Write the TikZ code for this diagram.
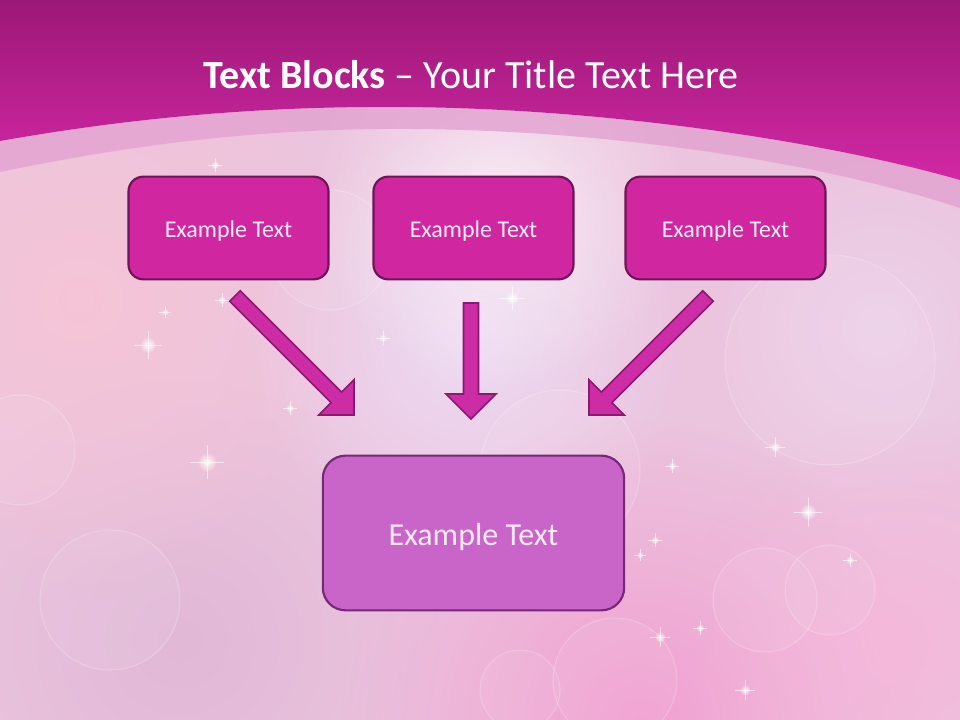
\documentclass[tikz,border=0pt]{standalone}
\usepackage{fontspec}
\setmainfont{Carlito}
\usetikzlibrary{calc,fadings}
\definecolor{bgbase}{HTML}{EBC4DE}
\definecolor{bgpeach}{HTML}{F6C4D6}
\definecolor{bglav}{HTML}{EEE0F6}
\definecolor{bghot}{HTML}{F39ACF}
\definecolor{bgpink}{HTML}{F7B6DA}
\definecolor{bgmauve}{HTML}{DDB4D4}
\definecolor{bandcol}{HTML}{E2A2D0}
\definecolor{topdark}{HTML}{9C1876}
\definecolor{toplight}{HTML}{D228A5}
\definecolor{boxfill}{HTML}{D027A1}
\definecolor{boxline}{HTML}{6E1458}
\definecolor{bigfill}{HTML}{C965C9}
\definecolor{bigline}{HTML}{762878}
\definecolor{arrfill}{HTML}{CC2CA4}
\definecolor{arrline}{HTML}{8A1870}
\definecolor{boxtext}{HTML}{FBEAF6}
\tikzfading[name=softglow, inner color=transparent!0, outer color=transparent!100]
\tikzset{
  smallbox/.style={draw=boxline, line width=1.6pt, fill=boxfill, rounded corners=11pt,
    minimum width=150pt, minimum height=77pt, text=boxtext, font=\fontsize{18}{21}\selectfont},
  bigbox/.style={draw=bigline, line width=1.6pt, fill=bigfill, rounded corners=17pt,
    minimum width=226pt, minimum height=116pt, text=boxtext, font=\fontsize{24}{28}\selectfont},
  blockarr/.style={draw=arrline, line width=1.2pt, fill=arrfill, line join=miter},
  glow/.style={path fading=softglow},
  bokeh/.style={draw=white, draw opacity=0.22, fill=white, fill opacity=0.06, line width=0.8pt},
  sparkline/.style={draw=white, line width=0.4pt, opacity=0.6}
}
\newcommand\blockarrow[2]{%
  \coordinate (hb) at ($(#2)!18.75pt!(#1)$);
  \draw[blockarr] (#2) -- ($(hb)!18.75pt!90:(#2)$) -- ($(hb)!5.6pt!90:(#2)$)
    -- ($(#1)!5.6pt!90:(hb)$) -- ($(#1)!5.6pt!-90:(hb)$)
    -- ($(hb)!5.6pt!-90:(#2)$) -- ($(hb)!18.75pt!-90:(#2)$) -- cycle;}
\newcommand\sparkle[3]{%
  \fill[white, glow, fill opacity=0.95] (#1,#2) circle ({1.4*#3});
  \draw[sparkline] ({#1-2.4*#3},#2) -- ({#1+2.4*#3},#2);
  \draw[sparkline] (#1,{#2-2.4*#3}) -- (#1,{#2+2.4*#3});}
\newcommand\lowtext[2]{\raisebox{0pt}[\dimexpr\height+#1\relax]{#2}}
\begin{document}
\begin{tikzpicture}[x=0.75pt,y=-0.75pt]
\useasboundingbox (0,0) rectangle (960,720);
% background
\fill[bgbase] (0,0) rectangle (960,720);
\begin{scope}
\clip (0,0) rectangle (960,720);
\fill[bgmauve, glow, fill opacity=0.7] (180,640) circle (260);
\fill[bgpeach, glow, fill opacity=0.95] (80,300) circle (300);
\fill[bglav, glow, fill opacity=0.85] (470,340) circle (220);
\fill[white, glow, fill opacity=0.6] (500,200) circle (190);
\fill[bghot, glow, fill opacity=0.85] (640,720) circle (300);
\fill[bgpink, glow, fill opacity=0.8] (900,640) circle (220);
\fill[bglav, glow, fill opacity=0.5] (880,330) circle (180);
% bokeh
\path[bokeh] (830,360) circle (105);
\path[bokeh] (765,600) circle (52);
\path[bokeh] (830,590) circle (45);
\path[bokeh] (615,680) circle (62);
\path[bokeh] (520,690) circle (40);
\path[bokeh] (110,600) circle (70);
\path[bokeh] (20,450) circle (55);
\path[bokeh] (560,470) circle (80);
\path[bokeh] (330,250) circle (60);
% sparkles
\sparkle{148}{345}{6}
\sparkle{207}{462}{7}
\sparkle{290}{408}{3}
\sparkle{383}{338}{3}
\sparkle{512}{298}{5}
\sparkle{222}{300}{3}
\sparkle{165}{312}{2.5}
\sparkle{215}{165}{3}
\sparkle{808}{512}{6}
\sparkle{775}{447}{4}
\sparkle{672}{466}{3}
\sparkle{655}{540}{3}
\sparkle{660}{637}{4}
\sparkle{700}{628}{3}
\sparkle{745}{690}{4}
\sparkle{640}{555}{2.5}
\sparkle{590}{490}{2.5}
\sparkle{850}{560}{3}
\end{scope}
% light band
\fill[bandcol, fill opacity=0.8] (0,141) .. controls (130,118) and (260,106) .. (400,107)
  .. controls (600,108) and (820,140) .. (960,180) -- (960,208)
  .. controls (830,165) and (620,130) .. (410,129)
  .. controls (260,128) and (130,145) .. (0,172) -- cycle;
% top magenta band
\shade[top color=topdark, bottom color=toplight] (0,0) -- (960,0) -- (960,180)
  .. controls (820,140) and (600,108) .. (400,107)
  .. controls (260,106) and (130,118) .. (0,141) -- cycle;
% title
\node[text=white, font=\fontsize{30}{34}\selectfont] (title) at (471,75)
  {\textbf{Text Blocks} – Your Title Text Here};
% boxes
\node[smallbox] (b1) at (228.5,228) {\lowtext{4.5pt}{Example Text}};
\node[smallbox] (b2) at (473.5,228) {\lowtext{4.5pt}{Example Text}};
\node[smallbox] (b3) at (725.5,228) {\lowtext{4.5pt}{Example Text}};
\node[bigbox] (b4) at (473.5,533) {\lowtext{6pt}{Example Text}};
% arrows
\coordinate (t1) at (235,296);
\coordinate (h1) at (354,415);
\coordinate (t2) at (471,303);
\coordinate (h2) at (471,419);
\coordinate (t3) at (708,296);
\coordinate (h3) at (589,415);
\blockarrow{t1}{h1}
\blockarrow{t2}{h2}
\blockarrow{t3}{h3}
\end{tikzpicture}
\end{document}
